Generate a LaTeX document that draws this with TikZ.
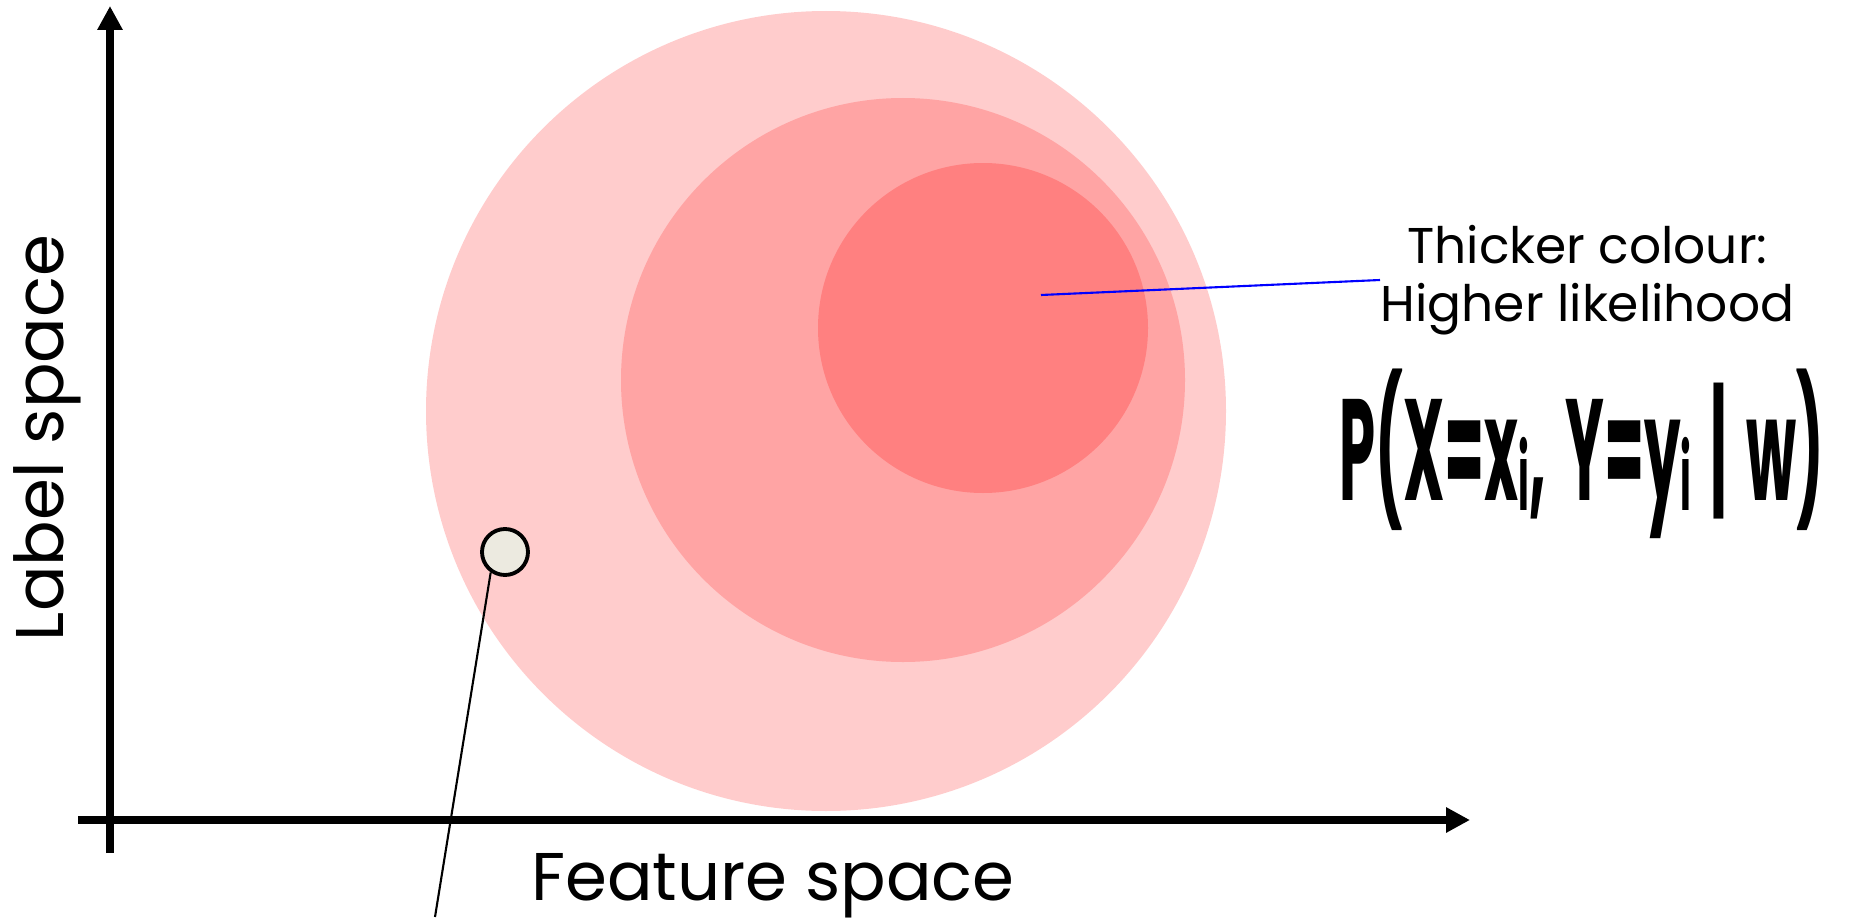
\documentclass[tikz,border=0pt]{standalone}
\usepackage{fontspec}
\setmainfont{Poppins}
\usepackage{graphicx}
\usetikzlibrary{arrows.meta, positioning}

\definecolor{outerpink}{HTML}{FFCCCC}
\definecolor{midpink}{HTML}{FFA4A4}
\definecolor{innerpink}{HTML}{FF8080}
\definecolor{dotgrey}{HTML}{ECEAE0}

\newcommand{\idx}{\raisebox{-3pt}{\fontsize{26}{26}\selectfont i}}

\begin{document}
\begin{tikzpicture}[
    axis/.style={line width=2.1pt, -{Triangle[length=6.8pt, width=6.8pt]}},
    point/.style={circle, draw=black, line width=1.1pt, fill=dotgrey, minimum size=0.46cm, inner sep=0pt},
    pointer/.style={line width=0.6pt},
    note/.style={align=center, font=\fontsize{14.3}{16.5}\selectfont, inner sep=0pt},
    axislabel/.style={font=\fontsize{19.2}{23}\selectfont, inner sep=0pt},
]
\useasboundingbox (0,0) rectangle (18.7,9.17);

    \fill [outerpink] (8.26,5.06) circle (4.00);
    \fill [midpink] (9.03,5.37) circle (2.82);
    \fill [innerpink] (9.83,5.89) circle (1.65);

    \coordinate (xstart) at (0.78,0.97);
    \coordinate (xend) at (14.70,0.97);
    \coordinate (ystart) at (1.10,0.64);
    \coordinate (yend) at (1.10,9.11);
    \draw [axis] (xstart) -- (xend);
    \draw [axis] (ystart) -- (yend);

    \node (xlabel) [axislabel, anchor=base] at (7.73,0.17) {Feature space};
    \node (ylabel) [axislabel, anchor=base, rotate=90] at (0.63,4.79) {Label space};

    \coordinate (peak) at (10.41,6.22);
    \node (likely) [note, anchor=west] at (13.80,6.37) {Thicker colour:\\Higher likelihood};
    \draw [blue, line width=0.6pt] (peak) -- (likely.west);

    \node (formula) [inner sep=0pt, anchor=base] at (15.82,4.17)
        {\resizebox{4.85cm}{\height}{\fontsize{41}{46}\selectfont\bfseries P(X=x\idx,\,\,Y=y\idx\,\,|\,\,w)}};

    \node (sample) [point] at (5.05,3.65) {};
    \coordinate (tail) at (4.35,0);
    \draw [pointer] (sample.235) -- (tail);

\end{tikzpicture}
\end{document}
